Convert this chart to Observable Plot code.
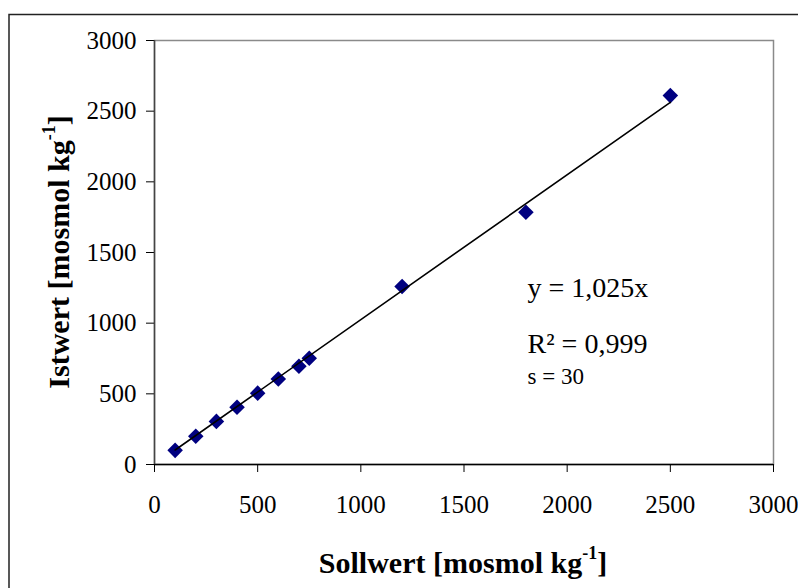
<!DOCTYPE html>
<html>
<head>
<meta charset="utf-8">
<script src="https://cdn.jsdelivr.net/npm/d3@7"></script>
<script src="https://cdn.jsdelivr.net/npm/@observablehq/plot@0.6"></script>
<style>
  html, body { margin: 0; padding: 0; background: #fff; }
  #chart { width: 798px; height: 588px; overflow: hidden; }
  #chart svg, #chart svg text { font-family: "Liberation Serif", "Times New Roman", serif !important; }
</style>
</head>
<body>
<div id="chart"></div>
<script>
// Data
const sollwert = [100, 200, 300, 400, 500, 600, 700, 750, 1200, 1800, 2500];
const istwert  = [100, 200, 305, 405, 505, 605, 695, 752, 1260, 1785, 2610];
const trendX = [100, 2500];
const trendY = [102.5, 2562.5];
const xTicks = [0, 500, 1000, 1500, 2000, 2500, 3000];
const yTicks = [0, 500, 1000, 1500, 2000, 2500, 3000];
const annoText = ["y = 1,025x", "R² = 0,999", "s = 30"];
const annoX = [1808, 1808, 1808];
const annoY = [1251, 855, 625];
const annoSize = [28, 28, 23];

const points = sollwert.map((x, i) => ({x, y: istwert[i]}));
const trend = trendX.map((x, i) => ({x, y: trendY[i]}));
const anno = annoText.map((t, i) => ({t, x: annoX[i], y: annoY[i], s: annoSize[i]}));

const serif = "Liberation Serif, Times New Roman, serif";

const svg = Plot.plot({
  width: 798,
  height: 588,
  marginLeft: 154,
  marginRight: 25,
  marginTop: 40,
  marginBottom: 124,
  style: { fontFamily: serif, fontSize: "25px", color: "#000", background: "#fff" },
  x: { domain: [0, 3000] },
  y: { domain: [0, 3000] },
  marks: [
    Plot.frame({ stroke: "#8a8a8a", strokeWidth: 1.5 }),
    Plot.axisX({ ticks: xTicks, tickFormat: d => String(d), tickSize: 8, tickPadding: 23, label: null, fontSize: 25, fontFamily: serif, stroke: "#000" }),
    Plot.axisY({ ticks: yTicks, tickFormat: d => String(d), tickSize: 8, tickPadding: 10, label: null, fontSize: 25, fontFamily: serif, stroke: "#000" }),
    Plot.ruleY([0], { stroke: "#000", strokeWidth: 1.5 }),
    Plot.ruleX([0], { stroke: "#444", strokeWidth: 1.5 }),
    Plot.dot(points, { x: "x", y: "y", symbol: "diamond2", r: 7, fill: "#000080", stroke: "none" }),
    Plot.line(trend, { x: "x", y: "y", stroke: "#000", strokeWidth: 1.6 }),
    Plot.text(anno, { x: "x", y: "y", text: "t", fontSize: d => d.s, fontFamily: serif, textAnchor: "start", lineAnchor: "middle", fill: "#000" })
  ]
});

const s = d3.select(svg);
// Outer chart-area frame (extends beyond the visible picture on right and bottom)
s.append("path")
  .attr("d", "M9,800 V14.5 H820")
  .attr("fill", "none")
  .attr("stroke", "#222")
  .attr("stroke-width", 1.5);

// X axis title
const xt = s.append("text")
  .attr("x", 463).attr("y", 573)
  .attr("text-anchor", "middle")
  .attr("font-family", serif)
  .attr("font-weight", "bold")
  .attr("font-size", 30)
  .attr("fill", "#000");
xt.append("tspan").text("Sollwert [mosmol kg");
xt.append("tspan").attr("dy", -14).attr("font-size", 18).text("-1");
xt.append("tspan").attr("dy", 14).text("]");

// Y axis title
const yt = s.append("text")
  .attr("transform", "translate(69,252) rotate(-90)")
  .attr("text-anchor", "middle")
  .attr("font-family", serif)
  .attr("font-weight", "bold")
  .attr("font-size", 30)
  .attr("fill", "#000");
yt.append("tspan").text("Istwert [mosmol kg");
yt.append("tspan").attr("dy", -14).attr("font-size", 18).text("-1");
yt.append("tspan").attr("dy", 14).text("]");

document.getElementById("chart").appendChild(svg);
</script>
</body>
</html>
